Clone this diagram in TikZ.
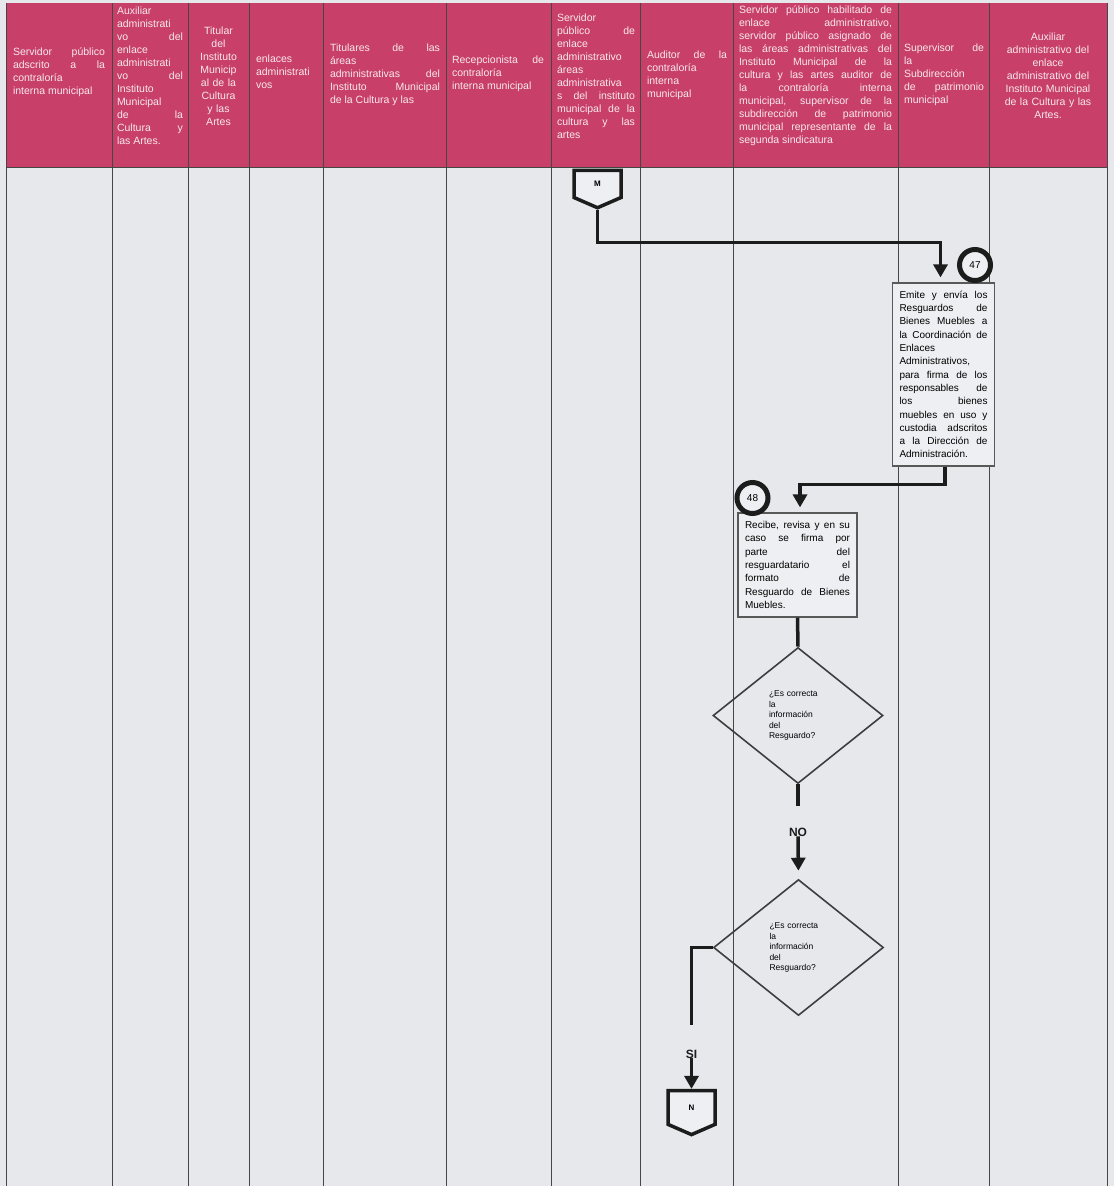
\documentclass[tikz,border=0pt]{standalone}
\usepackage{fontspec}
\setmainfont{Liberation Sans}
\usetikzlibrary{arrows.meta,shapes.geometric,shapes.symbols}
\definecolor{hdrred}{HTML}{C8406A}
\definecolor{paper}{HTML}{E6E8EC}
\definecolor{boxfill}{HTML}{EEEFF2}
\definecolor{ink}{HTML}{1C1C1C}
\newcommand{\loosepar}{\tolerance=10000\hyphenpenalty=10000\relax}
\tikzset{
  hdrtext/.style={text=white!88!hdrred, font=\fontsize{10.5}{13}\selectfont\loosepar, align=justify, inner sep=0pt},
  laneline/.style={gray!55!black, line width=1pt},
  stepbox/.style={draw=gray!70!black, line width=1.2pt, fill=boxfill, font=\fontsize{10}{13.3}\selectfont\loosepar, align=justify, inner xsep=7pt, inner ysep=0pt},
  stepnum/.style={circle, draw=ink, line width=5pt, fill=boxfill, minimum size=31pt, inner sep=0pt, font=\fontsize{10}{12}\selectfont},
  decision/.style={diamond, draw=ink!85, line width=1.6pt, minimum width=170pt, minimum height=136pt, inner sep=0pt, font=\fontsize{8.5}{10.5}\selectfont, text width=58pt, align=left},
  pageconn/.style={signal, signal to=south, signal pointer angle=133, draw=ink, line width=3.5pt, fill=boxfill, minimum width=47pt, minimum height=28.5pt, inner sep=0pt, font=\bfseries\fontsize{8}{10}\selectfont},
  flow/.style={ink, line width=3.5pt, -{Triangle[length=13pt,width=14pt]}},
  link/.style={ink, line width=3.5pt},
  answer/.style={font=\bfseries\fontsize{12}{14}\selectfont, inner sep=0pt, text=ink}
}
\begin{document}
\begin{tikzpicture}[x=1pt,y=-1pt]
\useasboundingbox (0,0) rectangle (1114,1186);
\fill[paper] (0,0) rectangle (1114,1186);
\fill[hdrred] (6,3) rectangle (1107,167);
\foreach \x in {6,112,188,249,323,446,551,640,733,898,989,1107}
  \draw[laneline] (\x,3) -- (\x,1186);
\draw[laneline] (6,167) -- (1107,167);
\node[hdrtext, text width=92pt] (h1) at (59,72) {Servidor público\linebreak adscrito a la\linebreak contraloría\linebreak interna municipal};
\node[hdrtext, text width=66pt] (h2) at (150,76) {Auxiliar\linebreak administrati\linebreak vo del\linebreak enlace\linebreak administrati\linebreak vo del\linebreak Instituto\linebreak Municipal\linebreak de la\linebreak Cultura y\linebreak las Artes.};
\node[hdrtext, text width=50pt, align=center] (h3) at (218.5,76) {Titular\\del\\Instituto\\Municip\\al de la\\Cultura\\y las\\Artes};
\node[hdrtext, text width=62pt] (h4) at (287,72) {enlaces\linebreak administrati\linebreak vos};
\node[hdrtext, text width=110pt] (h5) at (385,75) {Titulares de las\linebreak áreas\linebreak administrativas del\linebreak Instituto Municipal\linebreak de la Cultura y las};
\node[hdrtext, text width=92pt] (h6) at (498,74) {Recepcionista de\linebreak contraloría\linebreak interna municipal};
\node[hdrtext, text width=78pt] (h7) at (596,76) {Servidor\linebreak público de\linebreak enlace\linebreak administrativo\linebreak áreas\linebreak administrativa\linebreak s del instituto\linebreak municipal de la\linebreak cultura y las\linebreak artes};
\node[hdrtext, text width=80pt] (h8) at (687,75) {Auditor de la\linebreak contraloría\linebreak interna\linebreak municipal};
\node[hdrtext, text width=153pt] (h9) at (815.5,76) {Servidor público habilitado de\linebreak enlace administrativo,\linebreak servidor público asignado de\linebreak las áreas administrativas del\linebreak Instituto Municipal de la\linebreak cultura y las artes auditor de\linebreak la contraloría interna\linebreak municipal, supervisor de la\linebreak subdirección de patrimonio\linebreak municipal representante de la\linebreak segunda sindicatura};
\node[hdrtext, text width=80pt] (h10) at (944,75) {Supervisor de\linebreak la\linebreak Subdirección\linebreak de patrimonio\linebreak municipal};
\node[hdrtext, text width=108pt, align=center] (h11) at (1048,76) {Auxiliar\\administrativo del\\enlace\\administrativo del\\Instituto Municipal\\de la Cultura y las\\Artes.};
\node[pageconn] (m) at (597.5,184) {M};
\node[stepbox, text width=88pt, minimum height=183pt] (b47) at (943.5,374.5) {Emite y envía los\linebreak Resguardos de\linebreak Bienes Muebles a\linebreak la Coordinación de\linebreak Enlaces\linebreak Administrativos,\linebreak para firma de los\linebreak responsables de\linebreak los bienes\linebreak muebles en uso y\linebreak custodia adscritos\linebreak a la Dirección de\linebreak Administración.};
\node[stepnum] (n47) at (975,265) {47};
\node[stepbox, text width=105pt, minimum height=104pt] (b48) at (797.5,565) {Recibe, revisa y en su\linebreak caso se firma por\linebreak parte del\linebreak resguardatario el\linebreak formato de\linebreak Resguardo de Bienes\linebreak Muebles.};
\node[stepnum] (n48) at (752.5,498) {48};
\node[decision] (d1) at (798,715.5) {¿Es correcta\\la\\información\\del\\Resguardo?};
\node[answer] (no) at (798,832) {NO};
\node[decision] (d2) at (798.5,947.5) {¿Es correcta\\la\\información\\del\\Resguardo?};
\node[answer] (si) at (691.5,1054) {SI};
\node[pageconn, minimum height=35pt] (n) at (691.5,1107.5) {N};
\draw[flow, shorten >=5pt] (m.south) -- ++(0,33) -| ([xshift=-3pt]b47.north);
\draw[flow, shorten >=5pt] ([xshift=1.5pt]b47.south) -- ++(0,18) -| ([xshift=2.5pt]b48.north);
\draw[link] (b48.south) -- (d1.north);
\draw[link] (d1.south) -- ++(0,22);
\draw[flow, shorten >=8pt] (no.south) -- (d2.north);
\draw[link] (d2.west) -| ([yshift=25pt]si.north);
\draw[flow] (si.south) -- (n.north);
\end{tikzpicture}
\end{document}
